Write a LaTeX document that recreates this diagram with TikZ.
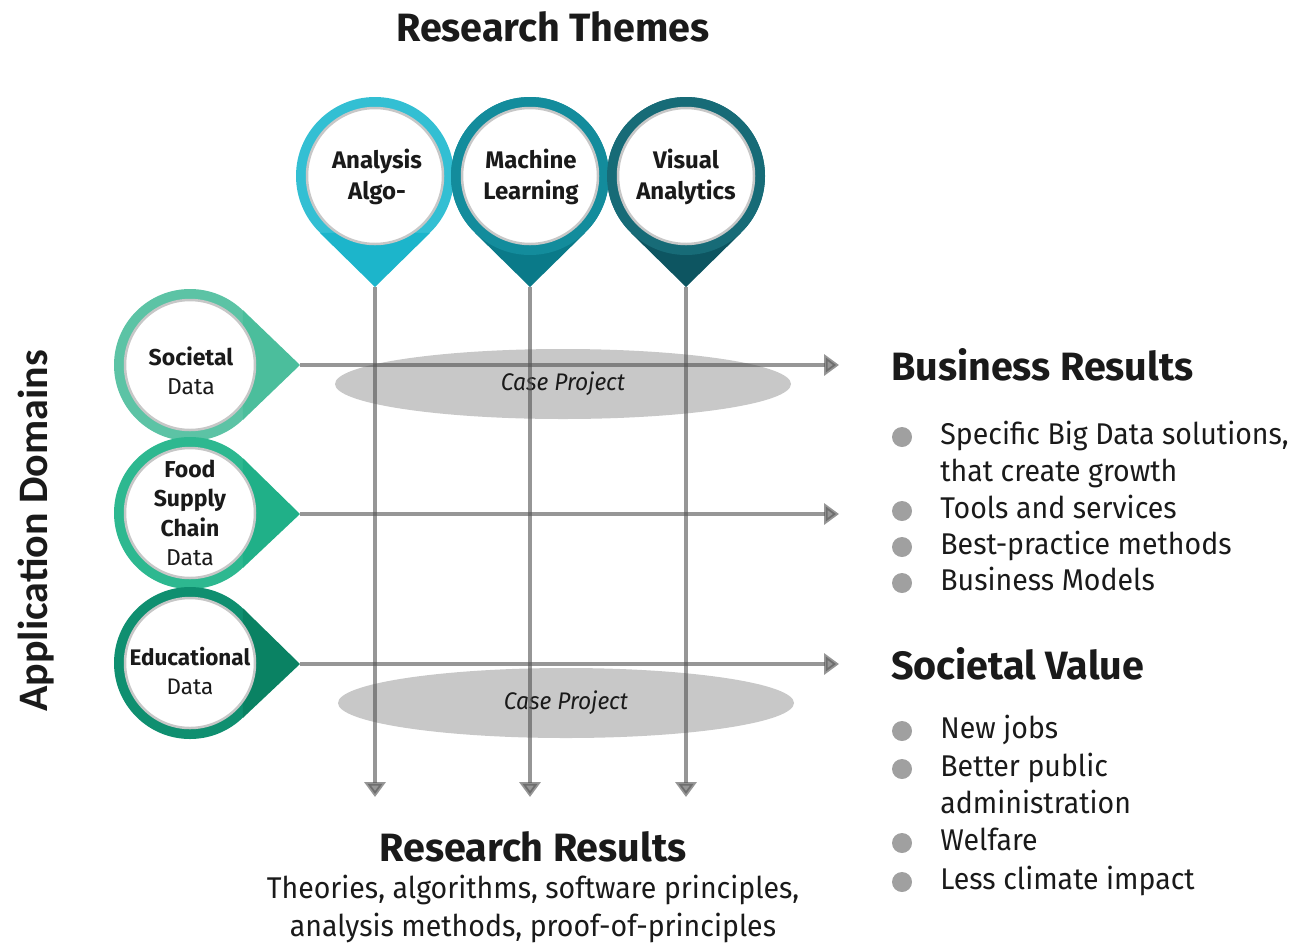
\documentclass[tikz,border=0pt]{standalone}
\usepackage{fontspec}
\setmainfont{Fira Sans}
\newfontfamily\bodyfont{Fira Sans}[FakeStretch=0.95]
\newfontfamily\axisfont{Carlito}
\usetikzlibrary{positioning,arrows.meta,shapes.geometric}

\definecolor{ink}{HTML}{1A1A1A}
\definecolor{flowgray}{HTML}{555555}
\definecolor{dotgray}{HTML}{A0A0A0}
\definecolor{projgray}{HTML}{C8C8C8}
\definecolor{ringA}{HTML}{33BFD3}
\definecolor{tipA}{HTML}{1CB5CB}
\definecolor{ringB}{HTML}{138C9C}
\definecolor{tipB}{HTML}{0A7A89}
\definecolor{ringC}{HTML}{176B77}
\definecolor{tipC}{HTML}{0D5561}
\definecolor{ringS}{HTML}{5CC3A5}
\definecolor{tipS}{HTML}{4BBE9C}
\definecolor{ringF}{HTML}{2DB890}
\definecolor{tipF}{HTML}{20B088}
\definecolor{ringE}{HTML}{0F8F70}
\definecolor{tipE}{HTML}{0A8263}

\begin{document}
\begin{tikzpicture}[x=1pt,y=-1pt,
         every node/.style = {text=ink, inner sep=0pt},
         themering/.style  = {circle, fill=#1, minimum size=158pt},
         domainring/.style = {circle, fill=#1, minimum size=152pt},
         face/.style       = {circle, fill=white, draw=black!22, line width=2.5pt},
         pintext/.style    = {align=center, font=\fontsize{24}{31}\selectfont},
         flow/.style       = {draw=flowgray, opacity=0.62, line width=3.5pt,
                              -{Triangle[width=21pt,length=15pt]}},
         project/.style    = {ellipse, fill=projgray, minimum width=456pt,
                              minimum height=70pt,
                              font=\bodyfont\itshape\fontsize{24}{24}\selectfont},
         heading/.style    = {font=\bfseries\fontsize{39.5}{39.5}\selectfont},
         item/.style       = {font=\bodyfont\fontsize{30}{30}\selectfont,
                              text height=22pt, text depth=7pt},
         bullet/.style     = {circle, fill=dotgray, minimum size=20pt}
]
   \useasboundingbox (0,0) rectangle (1292,943);

   % titles
   \node[heading] (themes) at (553,27) {Research Themes};
   \node[rotate=90, font=\axisfont\bfseries\fontsize{42}{42}\selectfont]
        (domains) at (36,531) {Application Domains};

   % pin tips and arrow ends
   \coordinate (tA) at (375,287);
   \coordinate (tB) at (530,287);
   \coordinate (tC) at (686,287);
   \coordinate (tS) at (300,365);
   \coordinate (tF) at (300,514);
   \coordinate (tE) at (300,664);

   \coordinate (eA) at (375,797);
   \coordinate (eB) at (530,797);
   \coordinate (eC) at (686,797);
   \coordinate (eS) at (839,365);
   \coordinate (eF) at (839,514);
   \coordinate (eE) at (839,664);

   % case projects
   \node[project] (cp1) at (563,384) {Case Project};
   \node[project] (cp2) at (566,703) {Case Project};

   \draw[flow] (tA) -- (eA);
   \draw[flow] (tB) -- (eB);
   \draw[flow] (tC) -- (eC);
   \draw[flow] (tS) -- (eS);
   \draw[flow] (tF) -- (eF);
   \draw[flow] (tE) -- (eE);

   % research themes
   \node[themering=ringA] (pA) at (375,176) {};
   \node[themering=ringB] (pB) at (530,176) {};
   \node[themering=ringC] (pC) at (686,176) {};
   \fill[tipA] (pA.-134) -- (tA) -- (pA.-46) -- cycle;
   \fill[tipB] (pB.-134) -- (tB) -- (pB.-46) -- cycle;
   \fill[tipC] (pC.-134) -- (tC) -- (pC.-46) -- cycle;
   \node[themering=ringB] at (pB) {};
   \node[themering=ringC] at (pC) {};
   \node[face, minimum size=136pt] (fA) at (pA) {};
   \node[face, minimum size=136pt] (fB) at (pB) {};
   \node[face, minimum size=136pt] (fC) at (pC) {};
   \node[pintext] (lA) at (377,177) {\textbf{Analysis}\\\textbf{Algo-}};
   \node[pintext] (lB) at (531,177) {\textbf{Machine}\\\textbf{Learning}};
   \node[pintext] (lC) at (686,177) {\textbf{Visual}\\\textbf{Analytics}};

   % application domains
   \node[domainring=ringS] (pS) at (190,365) {};
   \node[domainring=ringF] (pF) at (190,513) {};
   \node[domainring=ringE] (pE) at (190,663) {};
   \fill[tipS] (pS.46) -- (tS) -- (pS.-46) -- cycle;
   \fill[tipF] (pF.46) -- (tF) -- (pF.-46) -- cycle;
   \fill[tipE] (pE.46) -- (tE) -- (pE.-46) -- cycle;
   \node[face, minimum size=130pt] (fS) at (pS) {};
   \node[face, minimum size=130pt] (fF) at (pF) {};
   \node[face, minimum size=130pt] (fE) at (pE) {};
   \node[pintext, font=\fontsize{23}{29.5}\selectfont] (lS) at (191,371)
        {\textbf{Societal}\\Data};
   \node[pintext, font=\fontsize{23}{29.5}\selectfont] (lF) at (190,513)
        {\textbf{Food}\\\textbf{Supply}\\\textbf{Chain}\\Data};
   \node[pintext, font=\fontsize{22.5}{29.5}\selectfont] (lE) at (190,671)
        {\textbf{Educational}\\Data};

   % research results
   \node[heading] (results) at (533,847) {Research Results};
   \node[align=center, font=\bodyfont\fontsize{30}{38}\selectfont,
         below=12pt of results]
        (outputs) {Theories, algorithms, software principles,\\
                   analysis methods, proof-of-principles};

   % business results
   \node[heading, anchor=base west] (business) at (891,380) {Business Results};
   \node[bullet] (b1) at (902,437) {};
   \node[bullet] (b2) at (902,511) {};
   \node[bullet] (b3) at (902,547) {};
   \node[bullet] (b4) at (902,583) {};
   \node[item, right=28pt of b1] (i1) {Specific Big Data solutions,};
   \node[item, below=8pt of i1.south west, anchor=north west] (i1b) {that create growth};
   \node[item, right=28pt of b2] (i2) {Tools and services};
   \node[item, right=28pt of b3] (i3) {Best-practice methods};
   \node[item, right=28pt of b4] (i4) {Business Models};

   % societal value
   \node[heading, anchor=base west] (societal) at (891,679) {Societal Value};
   \node[bullet] (v1) at (902,731) {};
   \node[bullet] (v2) at (902,769) {};
   \node[bullet] (v3) at (902,843) {};
   \node[bullet] (v4) at (902,882) {};
   \node[item, right=28pt of v1] (j1) {New jobs};
   \node[item, right=28pt of v2] (j2) {Better public};
   \node[item, below=8pt of j2.south west, anchor=north west] (j2b) {administration};
   \node[item, right=28pt of v3] (j3) {Welfare};
   \node[item, right=28pt of v4] (j4) {Less climate impact};
\end{tikzpicture}
\end{document}
